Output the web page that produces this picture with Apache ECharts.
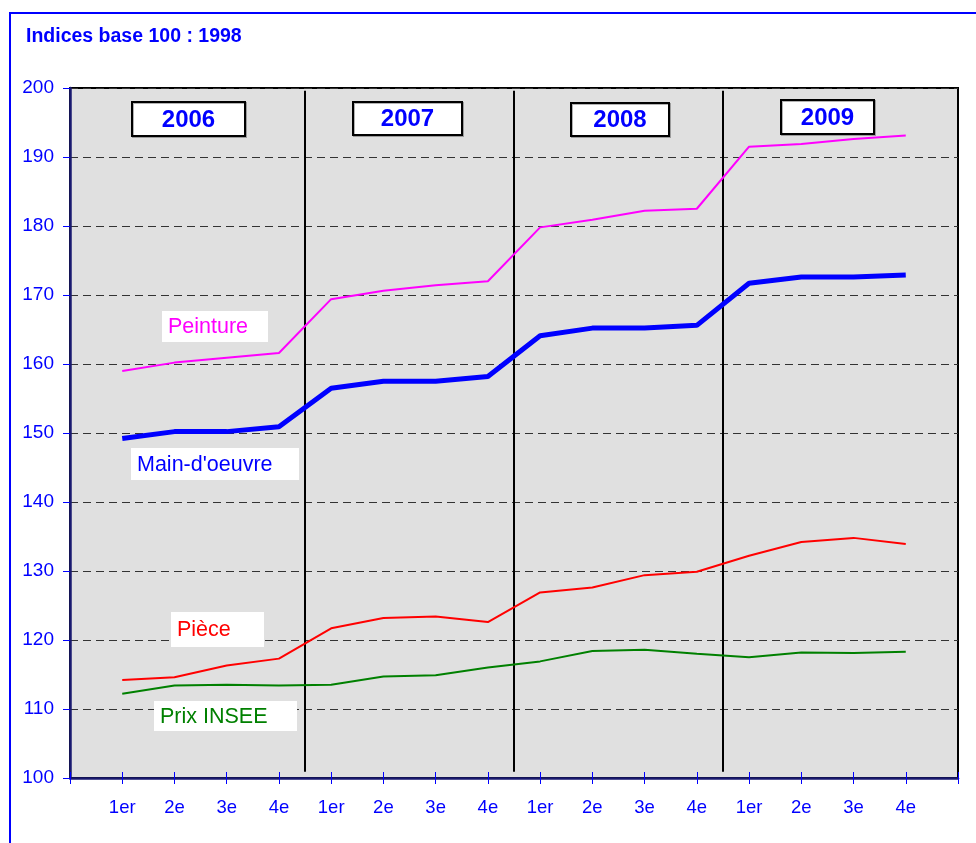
<!DOCTYPE html>
<html>
<head>
<meta charset="utf-8">
<script src="https://cdn.jsdelivr.net/npm/echarts@6/dist/echarts.min.js"></script>
<style>
html,body{margin:0;padding:0;background:#fff;}
#c{width:976px;height:843px;}
</style>
</head>
<body>
<div id="c"></div>
<script>
// ---- data ----
const quarterLabels = ['1er', '2e', '3e', '4e'];
const years = ['2006', '2007', '2008', '2009'];
const peinture   = [159.0, 160.2, 160.9, 161.6, 169.4, 170.6, 171.4, 172.0, 179.8, 180.9, 182.2, 182.5, 191.5, 191.9, 192.6, 193.1];
const mainOeuvre = [149.2, 150.2, 150.2, 150.9, 156.5, 157.5, 157.5, 158.2, 164.1, 165.2, 165.2, 165.6, 171.7, 172.6, 172.6, 172.9];
const piece      = [114.2, 114.6, 116.3, 117.3, 121.7, 123.2, 123.4, 122.6, 126.9, 127.6, 129.4, 129.9, 132.2, 134.2, 134.8, 133.9];
const prixInsee  = [112.2, 113.4, 113.5, 113.4, 113.5, 114.7, 114.9, 116.0, 116.9, 118.4, 118.6, 118.0, 117.5, 118.2, 118.1, 118.3];
const yTicks = {min: 100, max: 200, interval: 10};

const FONT = 'Liberation Sans, Arial, Helvetica, sans-serif';
const BLUE = '#0000FF';
const NAVY = '#1a1a70';
const nPts = quarterLabels.length * years.length;

function toXY(arr) { return arr.map((v, i) => [i + 1, v]); }

// year separators between quarter 4 and next quarter 1
const sepData = [];
for (let y = 1; y < years.length; y++) {
  const x = y * quarterLabels.length + 0.5;
  sepData.push([{coord: [x, 199.6]}, {coord: [x, 100.9]}]);
}

const chart = echarts.init(document.getElementById('c'), null, {renderer: 'canvas'});

function box(x, y, w, h, text, color, fontSize, bold, border) {
  return [{
    type: 'rect', z: 100,
    shape: {x: x, y: y, width: w, height: h},
    style: border ? {fill: '#fff', stroke: '#000', lineWidth: 2, shadowColor: 'rgba(0,0,0,0.3)', shadowOffsetX: 1, shadowOffsetY: 1} : {fill: '#fff'}
  }, {
    type: 'text', z: 101,
    x: border ? x + w / 2 : x + 6, y: y + h / 2 + 1,
    style: {
      text: text, fill: color, font: (bold ? 'bold ' : '') + fontSize + 'px ' + FONT,
      textAlign: border ? 'center' : 'left', textVerticalAlign: 'middle'
    }
  }];
}

const graphics = [
  {type: 'line', z: 100, shape: {x1: 9, y1: 13, x2: 976, y2: 13}, style: {stroke: BLUE, lineWidth: 2}},
  {type: 'line', z: 100, shape: {x1: 10, y1: 12, x2: 10, y2: 843}, style: {stroke: BLUE, lineWidth: 2}},
  {type: 'text', z: 100, x: 26, y: 37, style: {text: 'Indices base 100 : 1998', fill: BLUE, font: 'bold 19.5px ' + FONT, textVerticalAlign: 'middle'}}
].concat(
  box(132, 102, 113, 34, years[0], BLUE, 24, true, true),
  box(353, 102, 109, 33, years[1], BLUE, 24, true, true),
  box(571, 103, 98, 33, years[2], BLUE, 24, true, true),
  box(781, 100, 93, 34, years[3], BLUE, 24, true, true),
  box(162, 311, 106, 31, 'Peinture', '#FF00FF', 21.5, false, false),
  box(131, 448, 168, 32, "Main-d'oeuvre", BLUE, 21.5, false, false),
  box(171, 612, 93, 35, 'Pièce', '#FF0000', 21.5, false, false),
  box(154, 701, 143, 30, 'Prix INSEE', '#008000', 21.5, false, false)
);

const xCommon = {
  type: 'value', min: 0, max: nPts + 1, interval: 1,
  splitLine: {show: false}
};

const option = {
  animation: false,
  backgroundColor: '#fff',
  grid: {left: 70, right: 18, top: 88, bottom: 65, show: true, backgroundColor: '#E0E0E0', borderColor: '#000', borderWidth: 2},
  xAxis: [
    Object.assign({}, xCommon, {
      position: 'bottom',
      axisLine: {show: true, onZero: false, lineStyle: {color: NAVY, width: 2.5}},
      axisTick: {show: true, length: 6, lineStyle: {color: BLUE, width: 1}},
      axisLabel: {
        show: true, color: BLUE, fontSize: 18.5, fontFamily: FONT, margin: 20,
        formatter: v => (v >= 1 && v <= nPts) ? quarterLabels[(v - 1) % quarterLabels.length] : ''
      }
    }),
    Object.assign({}, xCommon, {
      position: 'bottom',
      axisLine: {show: false, onZero: false},
      axisTick: {show: true, inside: true, length: 6, lineStyle: {color: BLUE, width: 1}},
      axisLabel: {show: false}
    })
  ],
  yAxis: {
    type: 'value', min: yTicks.min, max: yTicks.max, interval: yTicks.interval,
    axisLine: {show: true, lineStyle: {color: NAVY, width: 2.5}},
    axisTick: {show: true, length: 7, lineStyle: {color: BLUE, width: 1}},
    axisLabel: {color: BLUE, fontSize: 19, fontFamily: FONT, margin: 16},
    splitLine: {show: true, lineStyle: {color: '#333', width: 1, type: [8, 5]}}
  },
  series: [
    {name: 'Peinture', type: 'line', data: toXY(peinture), symbol: 'none', lineStyle: {color: '#FF00FF', width: 2}, z: 3,
      markLine: {silent: true, symbol: 'none', label: {show: false}, lineStyle: {color: '#000', width: 2, type: 'solid'}, data: sepData, z: 2}},
    {name: "Main-d'oeuvre", type: 'line', data: toXY(mainOeuvre), symbol: 'none', lineStyle: {color: BLUE, width: 5}, z: 3},
    {name: 'Pièce', type: 'line', data: toXY(piece), symbol: 'none', lineStyle: {color: '#FF0000', width: 2}, z: 3},
    {name: 'Prix INSEE', type: 'line', data: toXY(prixInsee), symbol: 'none', lineStyle: {color: '#008000', width: 2}, z: 3}
  ],
  graphic: graphics
};
chart.setOption(option);
</script>
</body>
</html>
